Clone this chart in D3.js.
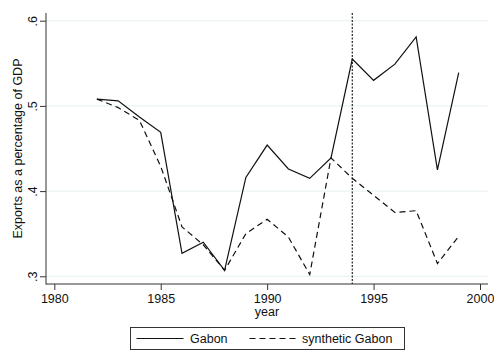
<!DOCTYPE html>
<html>
<head>
<meta charset="utf-8">
<script src="https://cdn.jsdelivr.net/npm/d3@7"></script>
<style>
  body { margin: 0; background: #fff; }
  svg { display: block; font-family: "Liberation Sans", Arial, sans-serif; }
</style>
</head>
<body>
<div id="chart"></div>
<script>
// years on the x axis
const years = [1982, 1983, 1984, 1985, 1986, 1987, 1988, 1989, 1990,
               1991, 1992, 1993, 1994, 1995, 1996, 1997, 1998, 1999];
// treated unit
const gabon = [0.508, 0.506, 0.487, 0.469, 0.327, 0.340, 0.307, 0.416, 0.454,
               0.426, 0.415, 0.439, 0.555, 0.530, 0.549, 0.581, 0.425, 0.539];
// synthetic control
const synthGabon = [0.508, 0.498, 0.483, 0.429, 0.358, 0.337, 0.307, 0.350, 0.367,
                    0.346, 0.302, 0.439, 0.415, 0.395, 0.375, 0.377, 0.315, 0.347];
const xTicks = [1980, 1985, 1990, 1995, 2000];
const yTicks = [0.3, 0.4, 0.5, 0.6];
const treatYear = 1994;
const seriesNames = ["Gabon", "synthetic Gabon"];

const wid = 494, hei = 350;
// plot region (axis lines run along it)
const plot = {left: 46, right: 488, top: 13, bottom: 284};

const svg = d3.select("#chart").append("svg")
    .attr("width", wid).attr("height", hei);

const xScale = d3.scaleLinear().domain([1980, 2000]).range([54.3, 480]);
const yScale = d3.scaleLinear().domain([0.3, 0.6]).range([276.3, 20.7]);

// light gridlines
svg.append("g")
    .selectAll("line")
    .data(yTicks)
    .enter().append("line")
    .attr("x1", plot.left).attr("x2", plot.right)
    .attr("y1", d => yScale(d)).attr("y2", d => yScale(d))
    .attr("stroke", "#e6eff2").attr("stroke-width", 1);

// vertical dotted line at treatment year
svg.append("line")
    .attr("x1", xScale(treatYear)).attr("x2", xScale(treatYear))
    .attr("y1", plot.top).attr("y2", plot.bottom)
    .attr("stroke", "#222").attr("stroke-width", 1.2)
    .attr("stroke-dasharray", "2,1.5");

// y axis
const fmtY = d => d3.format(".1f")(d).replace(/^0/, "");
const yAxis = d3.axisLeft(yScale).tickValues(yTicks).tickFormat(fmtY).tickSize(6).tickPadding(3);
const gy = svg.append("g")
    .attr("transform", `translate(${plot.left},0)`)
    .call(yAxis);
gy.select(".domain").remove();
gy.selectAll(".tick line").attr("stroke", "#333");
gy.selectAll(".tick text")
    .attr("transform", "rotate(-90)")
    .attr("x", 0).attr("y", -9)
    .attr("dy", 0)
    .attr("text-anchor", "middle")
    .style("font-size", "12.5px").attr("fill", "#111");
svg.append("line")
    .attr("x1", plot.left).attr("x2", plot.left)
    .attr("y1", plot.top).attr("y2", plot.bottom + 0.5)
    .attr("stroke", "#333");

// x axis
const xAxis = d3.axisBottom(xScale).tickValues(xTicks).tickFormat(d3.format("d")).tickSize(6).tickPadding(4);
const gx = svg.append("g")
    .attr("transform", `translate(0,${plot.bottom})`)
    .call(xAxis);
gx.select(".domain").remove();
gx.selectAll(".tick line").attr("stroke", "#333");
gx.selectAll(".tick text").style("font-size", "12.5px").attr("fill", "#111");
svg.append("line")
    .attr("x1", plot.left).attr("x2", plot.right)
    .attr("y1", plot.bottom).attr("y2", plot.bottom)
    .attr("stroke", "#333");

// axis titles
svg.append("text")
    .attr("x", (plot.left + plot.right) / 2).attr("y", 316)
    .attr("text-anchor", "middle")
    .style("font-size", "12.5px").attr("fill", "#111")
    .text("year");
svg.append("text")
    .attr("transform", `translate(22,${(plot.top + plot.bottom) / 2}) rotate(-90)`)
    .attr("text-anchor", "middle")
    .style("font-size", "12.5px").attr("fill", "#111")
    .text("Exports as a percentage of GDP");

// series lines
const line = d3.line().x((d, i) => xScale(years[i])).y(d => yScale(d));
svg.append("path")
    .datum(gabon)
    .attr("d", line)
    .attr("fill", "none").attr("stroke", "#111").attr("stroke-width", 1.2);
svg.append("path")
    .datum(synthGabon)
    .attr("d", line)
    .attr("fill", "none").attr("stroke", "#111").attr("stroke-width", 1.2)
    .attr("stroke-dasharray", "6,4");

// legend
const lg = svg.append("g");
lg.append("rect")
    .attr("x", 130.5).attr("y", 327.5).attr("width", 274).attr("height", 22)
    .attr("fill", "#fff").attr("stroke", "#333");
const legendItems = [
  {name: seriesNames[0], x1: 136.5, x2: 183.5, dash: null, tx: 190},
  {name: seriesNames[1], x1: 249.5, x2: 296.5, dash: "6,4", tx: 302}
];
legendItems.forEach(it => {
  lg.append("line")
    .attr("x1", it.x1).attr("x2", it.x2).attr("y1", 338.5).attr("y2", 338.5)
    .attr("stroke", "#111").attr("stroke-width", 1.2)
    .attr("stroke-dasharray", it.dash);
  lg.append("text")
    .attr("x", it.tx).attr("y", 343)
    .style("font-size", "12.5px").attr("fill", "#111")
    .text(it.name);
});
</script>
</body>
</html>
